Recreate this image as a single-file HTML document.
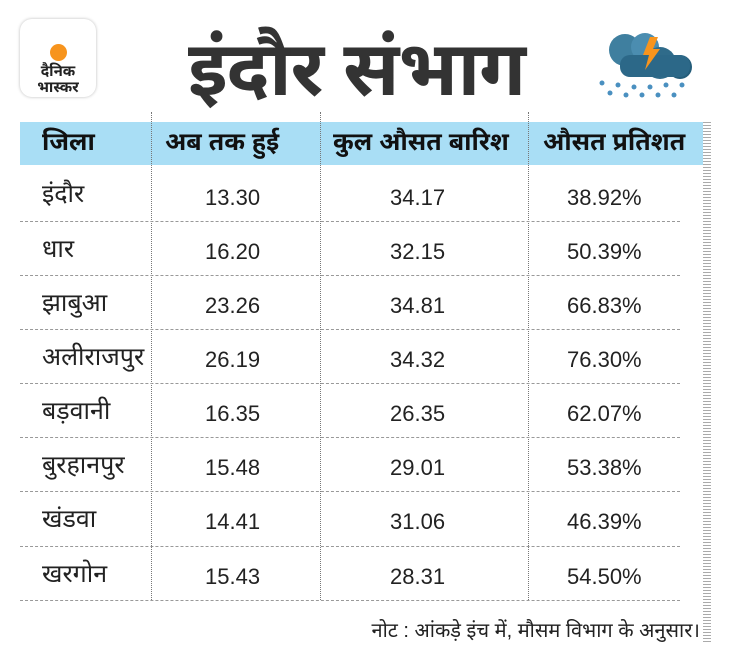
<!DOCTYPE html>
<html><head><meta charset="utf-8"><style>
body{margin:0;width:730px;height:653px;background:#fff;font-family:"Liberation Sans","Noto Sans Devanagari","Lohit Devanagari",sans-serif;position:relative;overflow:hidden;color:#222}
.logo{position:absolute;left:20px;top:19px;width:76px;height:78px;border-radius:12px;background:#fff;box-shadow:0 0 3px #bbb}
.logo .sun{position:absolute;left:30px;top:25px;width:17px;height:17px;border-radius:50%;background:#f7941d}
.logo .t{position:absolute;left:0;width:76px;text-align:center;font-weight:bold;font-size:15px;line-height:16px;top:45px;color:#222}
.title{position:absolute;left:188px;top:20px;font-size:76px;font-weight:bold;color:#333;line-height:100px;letter-spacing:-1px}
.hdr{position:absolute;left:20px;top:122px;width:683px;height:43px;background:#a9def5}
.row{position:absolute;left:20px;width:660px;border-bottom:1px dashed #999}
.c{position:absolute;font-size:22px;color:#222}
.n{font-size:25px}
.h{font-weight:bold;color:#111;font-size:25px}
.vl{position:absolute;top:112px;height:488px;border-left:1px dotted #777}
.note{position:absolute;right:30px;top:620px;font-size:20px;color:#222}
.ruler{position:absolute;left:703px;top:122px;width:8px;height:520px;background:repeating-linear-gradient(#aaa 0 1px,transparent 1px 3px)}
</style></head><body>
<div class="logo"><div class="sun"></div><div class="t">दैनिक<br>भास्कर</div></div>
<div class="title">इंदौर संभाग</div>
<svg style="position:absolute;left:590px;top:25px" width="110" height="75">
<circle cx="35" cy="25" r="16" fill="#3f7f9f"/><circle cx="55" cy="22" r="14" fill="#4b8db0"/><circle cx="70" cy="38" r="16" fill="#2f6b8a"/><circle cx="90" cy="42" r="12" fill="#245d7a"/><rect x="30" y="30" width="70" height="22" rx="10" fill="#2c6888"/>
<polygon points="60,12 68,12 63,24 70,24 55,45 59,30 53,30" fill="#f7941d"/>
<g fill="#4a90c0"><circle cx="12" cy="58" r="2.5"/><circle cx="28" cy="60" r="2.5"/><circle cx="44" cy="62" r="2.5"/><circle cx="60" cy="62" r="2.5"/><circle cx="76" cy="60" r="2.5"/><circle cx="92" cy="60" r="2.5"/><circle cx="20" cy="68" r="2.5"/><circle cx="36" cy="70" r="2.5"/><circle cx="52" cy="70" r="2.5"/><circle cx="68" cy="70" r="2.5"/><circle cx="84" cy="70" r="2.5"/></g></svg>
<div class="hdr"></div>
<div class="ruler"></div>
<div class="vl" style="left:151px"></div><div class="vl" style="left:320px"></div><div class="vl" style="left:528px"></div>
<div class="c h" style="left:42px;top:128px">जिला</div>
<div class="c h" style="left:165px;top:128px">अब तक हुई</div>
<div class="c h" style="left:333px;top:128px">कुल औसत बारिश</div>
<div class="c h" style="left:543px;top:128px">औसत प्रतिशत</div>
<div class="row" style="top:165px;height:56px"></div>
<div class="row" style="top:222px;height:53px"></div>
<div class="row" style="top:276px;height:53px"></div>
<div class="row" style="top:330px;height:53px"></div>
<div class="row" style="top:384px;height:53px"></div>
<div class="row" style="top:438px;height:53px"></div>
<div class="row" style="top:492px;height:54px"></div>
<div class="row" style="top:547px;height:53px"></div>
<div style="position:absolute;left:0;top:0">
<div class="c n" style="left:42px;top:180px">इंदौर</div><div class="c" style="left:205px;top:185px">13.30</div><div class="c" style="left:390px;top:185px">34.17</div><div class="c" style="left:567px;top:185px">38.92%</div>
<div class="c n" style="left:42px;top:235px">धार</div><div class="c" style="left:205px;top:239px">16.20</div><div class="c" style="left:390px;top:239px">32.15</div><div class="c" style="left:567px;top:239px">50.39%</div>
<div class="c n" style="left:42px;top:289px">झाबुआ</div><div class="c" style="left:205px;top:293px">23.26</div><div class="c" style="left:390px;top:293px">34.81</div><div class="c" style="left:567px;top:293px">66.83%</div>
<div class="c n" style="left:42px;top:343px">अलीराजपुर</div><div class="c" style="left:205px;top:347px">26.19</div><div class="c" style="left:390px;top:347px">34.32</div><div class="c" style="left:567px;top:347px">76.30%</div>
<div class="c n" style="left:42px;top:397px">बड़वानी</div><div class="c" style="left:205px;top:401px">16.35</div><div class="c" style="left:390px;top:401px">26.35</div><div class="c" style="left:567px;top:401px">62.07%</div>
<div class="c n" style="left:42px;top:451px">बुरहानपुर</div><div class="c" style="left:205px;top:455px">15.48</div><div class="c" style="left:390px;top:455px">29.01</div><div class="c" style="left:567px;top:455px">53.38%</div>
<div class="c n" style="left:42px;top:505px">खंडवा</div><div class="c" style="left:205px;top:509px">14.41</div><div class="c" style="left:390px;top:509px">31.06</div><div class="c" style="left:567px;top:509px">46.39%</div>
<div class="c n" style="left:42px;top:560px">खरगोन</div><div class="c" style="left:205px;top:564px">15.43</div><div class="c" style="left:390px;top:564px">28.31</div><div class="c" style="left:567px;top:564px">54.50%</div>
</div>
<div class="note">नोट : आंकड़े इंच में, मौसम विभाग के अनुसार।</div>
</body></html>
